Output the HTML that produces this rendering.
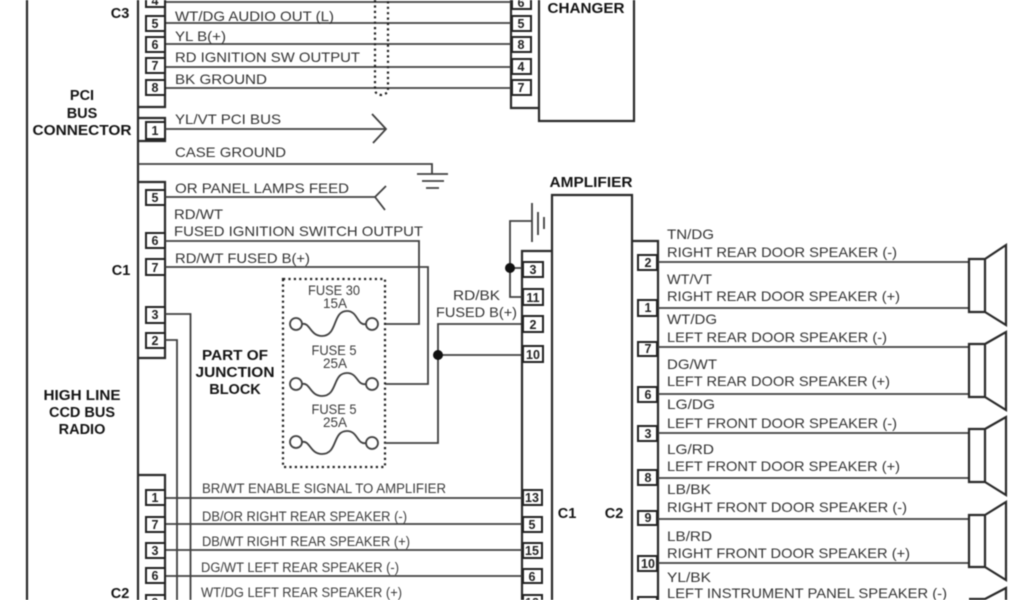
<!DOCTYPE html>
<html>
<head>
<meta charset="utf-8">
<style>
html,body{margin:0;padding:0;background:#fff;width:1024px;height:600px;overflow:hidden}
svg{display:block;filter:blur(0.6px)}
text{font-family:"Liberation Sans",sans-serif}
.l{font-size:14px;fill:#333}
.s{font-size:13.500px;fill:#3c3c3c}
.f{font-size:13.500px;fill:#3c3c3c;text-anchor:middle}
.b{font-size:14.500px;font-weight:bold;fill:#151515;text-anchor:middle}
.n{font-size:12.500px;font-weight:bold;fill:#222;text-anchor:middle}
.w{fill:none;stroke:#404040;stroke-width:1.800}
.t{fill:none;stroke:#2a2a2a;stroke-width:2.200}
.p{fill:#fff;stroke:#222;stroke-width:2}
.d{fill:none;stroke:#222;stroke-width:2.200;stroke-dasharray:2.200 3.200}
</style>
</head>
<body>
<svg width="1024" height="600" viewBox="0 0 1024 600" xmlns="http://www.w3.org/2000/svg">
<rect width="1024" height="600" fill="#fff"/>

<!-- radio outline -->
<path class="t" d="M27 0V600"/>
<path class="t" d="M138 0V600"/>

<!-- connector bodies left -->
<path class="t" d="M165 0V107H138"/>
<path class="t" d="M138 118H165V141H138"/>
<path class="t" d="M138 182H165V358H138"/>
<path class="t" d="M138 475H165V600"/>

<!-- changer -->
<path class="t" d="M511 0V108H539"/>
<path class="t" d="M539 0V121H634V0"/>

<!-- wires top -->
<path class="w" d="M165 2H511M165 23H511M165 44H511M165 67H511M165 88H511"/>
<path class="d" d="M375 0V91Q376 94 381 95Q387 94 388 91V0"/>

<!-- pins C3 -->
<rect class="p" x="146" y="-8" width="19" height="15"/>
<rect class="p" x="146" y="16" width="19" height="15"/>
<rect class="p" x="146" y="37" width="19" height="15"/>
<rect class="p" x="146" y="58" width="19" height="15"/>
<rect class="p" x="146" y="80" width="19" height="15"/>
<text class="n" x="155" y="5">4</text>
<text class="n" x="155" y="28">5</text>
<text class="n" x="155" y="49">6</text>
<text class="n" x="155" y="70">7</text>
<text class="n" x="155" y="92">8</text>

<!-- pins changer -->
<rect class="p" x="512" y="-6" width="19" height="15"/>
<rect class="p" x="512" y="16" width="19" height="15"/>
<rect class="p" x="512" y="37" width="19" height="15"/>
<rect class="p" x="512" y="59" width="19" height="15"/>
<rect class="p" x="512" y="80" width="19" height="15"/>
<text class="n" x="521" y="7">6</text>
<text class="n" x="521" y="28">5</text>
<text class="n" x="521" y="49">8</text>
<text class="n" x="521" y="71">4</text>
<text class="n" x="521" y="92">7</text>

<!-- PCI bus -->
<rect class="p" x="146" y="122" width="19" height="17"/>
<text class="n" x="155" y="135">1</text>
<path class="w" d="M165 129H385"/>
<path class="w" d="M372 114L386 129L373 143"/>

<!-- case ground -->
<path class="w" d="M138 164H432V174"/>
<path class="w" d="M417 174H448M422 181H444M426 188H439"/>

<!-- panel lamps -->
<rect class="p" x="146" y="190" width="19" height="15"/>
<text class="n" x="155" y="202">5</text>
<path class="w" d="M165 197H375L386 186M375 197L385 210"/>

<!-- C1 pins -->
<rect class="p" x="146" y="233" width="19" height="15"/>
<rect class="p" x="146" y="259" width="19" height="16"/>
<rect class="p" x="146" y="307" width="19" height="16"/>
<rect class="p" x="146" y="333" width="19" height="15"/>
<text class="n" x="155" y="245">6</text>
<text class="n" x="155" y="272">7</text>
<text class="n" x="155" y="319">3</text>
<text class="n" x="155" y="345">2</text>

<path class="w" d="M165 241H419V324H385"/>
<path class="w" d="M165 267H428V384H385"/>
<path class="w" d="M165 314H190.500V600" stroke-width="1.300"/>
<path class="w" d="M165 340H177V600" stroke-width="1.300"/>

<!-- fuse box -->
<rect class="d" x="283" y="279" width="102" height="188"/>
<circle class="w" cx="296" cy="324" r="6"/><circle class="w" cx="372" cy="324" r="6"/>
<path class="w" d="M302 324C310 322 310 336 322 336C338 336 332 311 347 311C358 311 357 326 366 324"/>
<circle class="w" cx="296" cy="384" r="6"/><circle class="w" cx="372" cy="384" r="6"/>
<path class="w" d="M302 384C310 382 310 396 322 396C338 396 332 373 347 373C358 373 357 386 366 384"/>
<circle class="w" cx="296" cy="442" r="6"/><circle class="w" cx="372" cy="443" r="6"/>
<path class="w" d="M302 442C310 440 310 454 322 454C338 454 332 431 347 431C358 431 357 445 366 443"/>

<!-- junction -->
<path class="w" d="M385 443H438V324H522"/>
<path class="w" d="M438 355H522"/>
<circle cx="438" cy="355" r="5" fill="#111"/>

<!-- amplifier -->
<path class="t" d="M552 600V195H632V600"/>
<path class="t" d="M552 251H522V600"/>
<path class="t" d="M632 241H658V600"/>

<!-- amp ground -->
<path class="w" d="M532 221H510V297H522M510 268H522"/>
<circle cx="510" cy="268" r="5" fill="#111"/>
<path class="w" d="M532 203V242M538 212V235"/>
<path class="w" d="M544 217V229" stroke-width="2"/>

<!-- amp C1 pins -->
<rect class="p" x="523" y="262" width="20" height="15"/>
<rect class="p" x="523" y="289" width="20" height="16"/>
<rect class="p" x="523" y="316" width="20" height="16"/>
<rect class="p" x="523" y="346" width="20" height="16"/>
<text class="n" x="533" y="274">3</text>
<text class="n" x="533" y="302">11</text>
<text class="n" x="533" y="329">2</text>
<text class="n" x="533" y="359">10</text>

<!-- lower connections -->
<path class="w" d="M165 498H523M165 524H523M165 550H523M165 576H523" stroke-width="1.500"/>
<rect class="p" x="146" y="490" width="19" height="15"/>
<rect class="p" x="146" y="517" width="19" height="15"/>
<rect class="p" x="146" y="543" width="19" height="15"/>
<rect class="p" x="146" y="568" width="19" height="15"/>
<rect class="p" x="146" y="595" width="19" height="15"/>
<text class="n" x="155" y="502">1</text>
<text class="n" x="155" y="529">7</text>
<text class="n" x="155" y="555">3</text>
<text class="n" x="155" y="580">6</text>
<text class="n" x="155" y="607">9</text>

<rect class="p" x="523" y="490" width="19" height="15"/>
<rect class="p" x="523" y="517" width="19" height="15"/>
<rect class="p" x="523" y="543" width="19" height="15"/>
<rect class="p" x="523" y="569" width="19" height="14"/>
<rect class="p" x="523" y="595" width="19" height="15"/>
<text class="n" x="532" y="502">13</text>
<text class="n" x="532" y="529">5</text>
<text class="n" x="532" y="555">15</text>
<text class="n" x="532" y="581">6</text>
<text class="n" x="532" y="607">12</text>

<!-- right wires -->
<path class="w" d="M658 262H969M658 308H969M658 347H969M658 394H969M658 433H969M658 478H969M658 519H969M658 563H969"/>

<!-- right pins -->
<rect class="p" x="638" y="255" width="19" height="15"/>
<rect class="p" x="638" y="300" width="19" height="16"/>
<rect class="p" x="638" y="342" width="19" height="14"/>
<rect class="p" x="638" y="387" width="19" height="15"/>
<rect class="p" x="638" y="426" width="19" height="15"/>
<rect class="p" x="638" y="470" width="19" height="15"/>
<rect class="p" x="638" y="511" width="19" height="14"/>
<rect class="p" x="638" y="556" width="19" height="15"/>
<rect class="p" x="638" y="597" width="19" height="15"/>
<text class="n" x="648" y="267">2</text>
<text class="n" x="648" y="312">1</text>
<text class="n" x="648" y="353">7</text>
<text class="n" x="648" y="399">6</text>
<text class="n" x="648" y="438">3</text>
<text class="n" x="648" y="482">8</text>
<text class="n" x="648" y="522">9</text>
<text class="n" x="648" y="568">10</text>

<!-- speakers -->
<path class="t" d="M969 259H985V312H969ZM985 259L1006 245V325L985 312"/>
<path class="t" d="M969 344H985V397H969ZM985 344L1006 332V410L985 397"/>
<path class="t" d="M969 429H985V482H969ZM985 429L1006 417V495L985 482"/>
<path class="t" d="M969 515H985V567H969ZM985 515L1006 502V580L985 567"/>
<path class="t" d="M969 599H985L1006 588V600"/>

<!-- bold labels -->
<text class="b" x="120" y="18">C3</text>
<text class="b" x="82" y="100">PCI</text>
<text class="b" x="82" y="118">BUS</text>
<text class="b" x="82" y="135" textLength="99" lengthAdjust="spacingAndGlyphs">CONNECTOR</text>
<text class="b" x="121" y="275">C1</text>
<text class="b" x="82" y="400" textLength="77" lengthAdjust="spacingAndGlyphs">HIGH LINE</text>
<text class="b" x="82" y="417">CCD BUS</text>
<text class="b" x="82" y="434">RADIO</text>
<text class="b" x="120" y="598">C2</text>
<text class="b" x="235" y="360" textLength="66" lengthAdjust="spacingAndGlyphs">PART OF</text>
<text class="b" x="235" y="377" textLength="79" lengthAdjust="spacingAndGlyphs">JUNCTION</text>
<text class="b" x="235" y="394">BLOCK</text>
<text class="b" x="586" y="13" textLength="77" lengthAdjust="spacingAndGlyphs">CHANGER</text>
<text class="b" x="591" y="187" textLength="83" lengthAdjust="spacingAndGlyphs">AMPLIFIER</text>
<text class="b" x="567" y="518">C1</text>
<text class="b" x="614" y="518">C2</text>

<!-- wire labels left -->
<text class="l" x="175" y="21" textLength="159" lengthAdjust="spacingAndGlyphs">WT/DG AUDIO OUT (L)</text>
<text class="l" x="175" y="41" textLength="51" lengthAdjust="spacingAndGlyphs">YL B(+)</text>
<text class="l" x="175" y="62" textLength="185" lengthAdjust="spacingAndGlyphs">RD IGNITION SW OUTPUT</text>
<text class="l" x="175" y="84" textLength="92" lengthAdjust="spacingAndGlyphs">BK GROUND</text>
<text class="l" x="175" y="124" textLength="106" lengthAdjust="spacingAndGlyphs">YL/VT PCI BUS</text>
<text class="l" x="175" y="157" textLength="111" lengthAdjust="spacingAndGlyphs">CASE GROUND</text>
<text class="l" x="175" y="193" textLength="174" lengthAdjust="spacingAndGlyphs">OR PANEL LAMPS FEED</text>
<text class="l" x="174" y="219" textLength="49" lengthAdjust="spacingAndGlyphs">RD/WT</text>
<text class="l" x="174" y="236" textLength="249" lengthAdjust="spacingAndGlyphs">FUSED IGNITION SWITCH OUTPUT</text>
<text class="l" x="175" y="263" textLength="135" lengthAdjust="spacingAndGlyphs">RD/WT FUSED B(+)</text>

<!-- fuse labels -->
<text class="f" x="334" y="295" textLength="52" lengthAdjust="spacingAndGlyphs">FUSE 30</text>
<text class="f" x="335" y="308">15A</text>
<text class="f" x="334" y="355" textLength="45" lengthAdjust="spacingAndGlyphs">FUSE 5</text>
<text class="f" x="335" y="368">25A</text>
<text class="f" x="334" y="414" textLength="45" lengthAdjust="spacingAndGlyphs">FUSE 5</text>
<text class="f" x="335" y="427">25A</text>

<text class="l" x="453" y="300" textLength="47" lengthAdjust="spacingAndGlyphs">RD/BK</text>
<text class="l" x="436" y="317" textLength="81" lengthAdjust="spacingAndGlyphs">FUSED B(+)</text>

<!-- lower labels -->
<text class="s" x="202" y="493" textLength="244" lengthAdjust="spacingAndGlyphs">BR/WT ENABLE SIGNAL TO AMPLIFIER</text>
<text class="s" x="202" y="521" textLength="205" lengthAdjust="spacingAndGlyphs">DB/OR RIGHT REAR SPEAKER (-)</text>
<text class="s" x="202" y="546" textLength="208" lengthAdjust="spacingAndGlyphs">DB/WT RIGHT REAR SPEAKER (+)</text>
<text class="s" x="201" y="572" textLength="198" lengthAdjust="spacingAndGlyphs">DG/WT LEFT REAR SPEAKER (-)</text>
<text class="s" x="201" y="597" textLength="201" lengthAdjust="spacingAndGlyphs">WT/DG LEFT REAR SPEAKER (+)</text>

<!-- right labels -->
<text class="l" x="667" y="239" textLength="47" lengthAdjust="spacingAndGlyphs">TN/DG</text>
<text class="l" x="667" y="257" textLength="230" lengthAdjust="spacingAndGlyphs">RIGHT REAR DOOR SPEAKER (-)</text>
<text class="l" x="667" y="284" textLength="45" lengthAdjust="spacingAndGlyphs">WT/VT</text>
<text class="l" x="667" y="301" textLength="233" lengthAdjust="spacingAndGlyphs">RIGHT REAR DOOR SPEAKER (+)</text>
<text class="l" x="667" y="324" textLength="50" lengthAdjust="spacingAndGlyphs">WT/DG</text>
<text class="l" x="667" y="342" textLength="220" lengthAdjust="spacingAndGlyphs">LEFT REAR DOOR SPEAKER (-)</text>
<text class="l" x="667" y="369" textLength="50" lengthAdjust="spacingAndGlyphs">DG/WT</text>
<text class="l" x="667" y="386" textLength="223" lengthAdjust="spacingAndGlyphs">LEFT REAR DOOR SPEAKER (+)</text>
<text class="l" x="667" y="409" textLength="48" lengthAdjust="spacingAndGlyphs">LG/DG</text>
<text class="l" x="667" y="428" textLength="230" lengthAdjust="spacingAndGlyphs">LEFT FRONT DOOR SPEAKER (-)</text>
<text class="l" x="667" y="454" textLength="47" lengthAdjust="spacingAndGlyphs">LG/RD</text>
<text class="l" x="667" y="471" textLength="233" lengthAdjust="spacingAndGlyphs">LEFT FRONT DOOR SPEAKER (+)</text>
<text class="l" x="667" y="494" textLength="44" lengthAdjust="spacingAndGlyphs">LB/BK</text>
<text class="l" x="667" y="512" textLength="240" lengthAdjust="spacingAndGlyphs">RIGHT FRONT DOOR SPEAKER (-)</text>
<text class="l" x="667" y="541" textLength="45" lengthAdjust="spacingAndGlyphs">LB/RD</text>
<text class="l" x="667" y="558" textLength="243" lengthAdjust="spacingAndGlyphs">RIGHT FRONT DOOR SPEAKER (+)</text>
<text class="l" x="667" y="582" textLength="44" lengthAdjust="spacingAndGlyphs">YL/BK</text>
<text class="l" x="667" y="598" textLength="280" lengthAdjust="spacingAndGlyphs">LEFT INSTRUMENT PANEL SPEAKER (-)</text>
</svg>
</body>
</html>
